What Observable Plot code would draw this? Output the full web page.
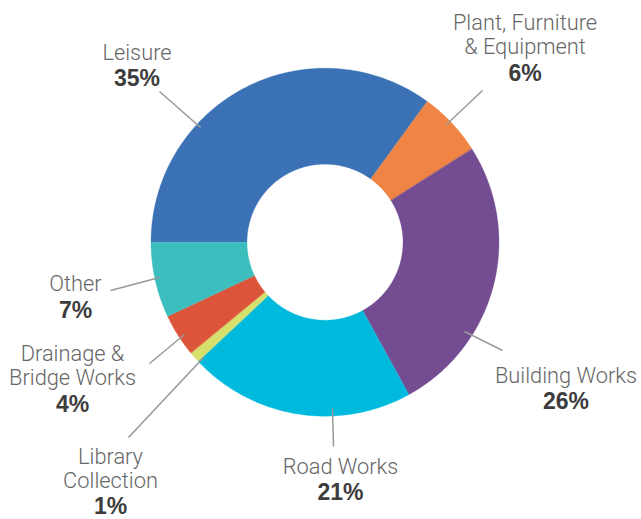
<!DOCTYPE html>
<html>
<head>
<meta charset="utf-8">
<script src="https://cdn.jsdelivr.net/npm/d3@7"></script>
<script src="https://cdn.jsdelivr.net/npm/@observablehq/plot@0.6"></script>
<style>
  html, body { margin: 0; padding: 0; background: #fff; }
  #chart svg { display: block; }
</style>
</head>
<body>
<div id="chart"></div>
<script>
// ---- Data ----
const categories = ["Leisure", "Plant, Furniture\n& Equipment", "Building Works", "Road Works", "Library\nCollection", "Drainage &\nBridge Works", "Other"];
const shares = [35, 6, 26, 21, 1, 4, 7];
const colors = ["#3a72b5", "#ef8445", "#744c91", "#00bade", "#d6e06d", "#dc5439", "#3bbebd"];

// ---- Layout (pixels relative to the donut centre) ----
const W = 641, H = 519;
const cx = 324.5, cy = 241.7;
const outerR = 174, innerR = 78;
// label anchor [x, nameBaseline, pctBaseline] and leader [x1,y1,x2,y2]
const labelPos = [
  [-188, -182.7, -156.7],
  [200, -188.7, -161.7],
  [241, 140.3, 166.3],
  [15.5, 231.3, 257.8],
  [-214.5, 245.3, 271.3],
  [-252.5, 142.3, 169.3],
  [-249.5, 48.3, 75.3]
];
const leaders = [
  [-165.5, -150.7, -124.5, -114.7],
  [157.5, -151.7, 121.5, -117.7],
  [177.5, 108.3, 139.5, 89.3],
  [8.5, 204.3, 7.5, 166.3],
  [-196.5, 195.3, -121.5, 115.3],
  [-175.5, 121.3, -140.5, 92.3],
  [-214.5, 48.3, -165.5, 35.3]
];

// ---- Build slice polygons from d3.pie ----
const rows = categories.map((c, i) => ({name: c, value: shares[i], color: colors[i], i}));
const arcs = d3.pie().sort(null).value(d => d.value)
  .startAngle(-Math.PI / 2).endAngle(3 * Math.PI / 2)(rows);

const pts = [];
for (const a of arcs) {
  const n = Math.max(4, Math.ceil((a.endAngle - a.startAngle) / 0.01));
  const ring = [];
  for (let k = 0; k <= n; k++) {
    const t = a.startAngle + (a.endAngle - a.startAngle) * k / n;
    ring.push({x: outerR * Math.sin(t), y: -outerR * Math.cos(t)});
  }
  for (let k = n; k >= 0; k--) {
    const t = a.startAngle + (a.endAngle - a.startAngle) * k / n;
    ring.push({x: innerR * Math.sin(t), y: -innerR * Math.cos(t)});
  }
  for (const p of ring) pts.push({...p, key: a.data.name, color: a.data.color});
}

const labels = rows.map((d, i) => ({
  name: d.name, pct: d.value + "%",
  x: labelPos[i][0], yName: labelPos[i][1], yPct: labelPos[i][2],
  x1: leaders[i][0], y1: leaders[i][1], x2: leaders[i][2], y2: leaders[i][3]
}));

const chart = Plot.plot({
  width: W, height: H,
  margin: 0,
  x: {domain: [-cx, W - cx], range: [0, W], axis: null},
  y: {domain: [-cy, H - cy], range: [0, H], axis: null},
  style: {background: "#fff"},
  marks: [
    Plot.line(pts, {x: "x", y: "y", z: "key", fill: "color", stroke: "color", strokeWidth: 0.3, curve: "linear-closed"}),
    Plot.link(labels, {x1: "x1", y1: "y1", x2: "x2", y2: "y2", stroke: "#999", strokeWidth: 1.5}),
    Plot.text(labels, {x: "x", y: "yName", text: "name", lineAnchor: "bottom", lineHeight: 1.1,
      fontSize: 21.8, fill: "#666", fontFamily: "Roboto, 'Liberation Sans', sans-serif", fontWeight: 300}),
    Plot.text(labels, {x: "x", y: "yPct", text: "pct", lineAnchor: "bottom",
      fontSize: 23, fill: "#3d3d3d", fontFamily: "'Liberation Sans', Arial, sans-serif", fontWeight: "bold"})
  ]
});
document.getElementById("chart").appendChild(chart);
</script>
</body>
</html>
